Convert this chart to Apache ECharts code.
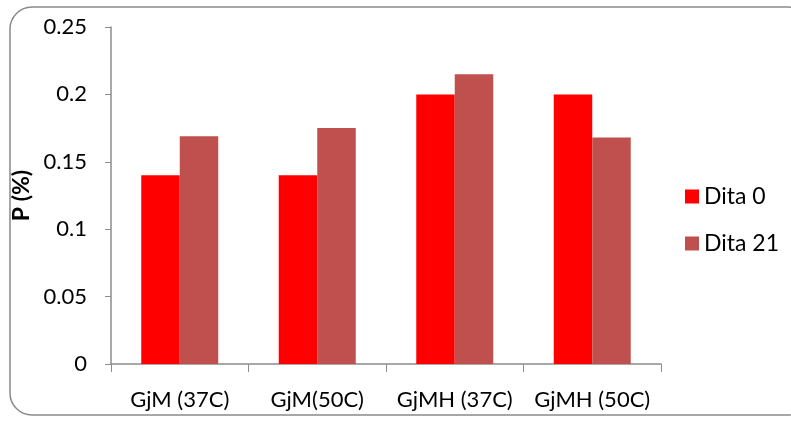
<!DOCTYPE html>
<html><head><meta charset="utf-8">
<script src="https://cdn.jsdelivr.net/npm/echarts@6/dist/echarts.min.js"></script>
<style>html,body{margin:0;padding:0;background:#fff}#c{width:791px;height:421px}</style>
</head><body><div id="c"></div>
<script>
var categories = ['GjM (37C)', 'GjM(50C)', 'GjMH (37C)', 'GjMH (50C)'];
var dita0 = [0.14, 0.14, 0.2, 0.2];
var dita21 = [0.169, 0.175, 0.215, 0.168];
var seriesNames = ['Dita 0', 'Dita 21'];
var yTicks = [0, 0.05, 0.1, 0.15, 0.2, 0.25];

var FONT = 'Lato';
var chart = echarts.init(document.getElementById('c'), null, {renderer: 'canvas'});
chart.setOption({
  animation: false,
  backgroundColor: '#fff',
  textStyle: {fontFamily: FONT},
  graphic: [
    {type: 'rect', shape: {x: 10, y: 7, width: 800, height: 408, r: 22},
     style: {fill: 'none', stroke: '#8a8a8a', lineWidth: 1.5}, z: -1},
    {type: 'text', left: 392, top: -23, style: {text: '(a)', font: '22px ' + FONT, fill: '#000'}}
  ],
  grid: {left: 111, right: 130, top: 27, bottom: 57},
  legend: {
    orient: 'vertical', left: 680, top: 180, itemGap: 24,
    itemWidth: 14, itemHeight: 14, icon: 'rect',
    textStyle: {fontSize: 23, fontFamily: FONT, color: '#000'},
    data: seriesNames
  },
  xAxis: {
    type: 'category', data: categories,
    axisLine: {lineStyle: {color: '#8c8c8c', width: 1.5}},
    axisTick: {show: true, length: 8, alignWithLabel: false, lineStyle: {color: '#8c8c8c'}},
    axisLabel: {fontSize: 22, color: '#000', margin: 25, fontFamily: FONT, interval: 0}
  },
  yAxis: {
    type: 'value', min: 0, max: 0.25, interval: 0.05,
    name: 'P (%)', nameLocation: 'middle', nameGap: 64, nameRotate: 90,
    nameTextStyle: {fontSize: 23, fontWeight: 'bold', color: '#000', fontFamily: FONT},
    axisLine: {show: true, lineStyle: {color: '#8c8c8c', width: 1.5}},
    axisTick: {show: true, length: 6, inside: false, lineStyle: {color: '#8c8c8c'}},
    splitLine: {show: false},
    axisLabel: {fontSize: 22, color: '#000', margin: 24, fontFamily: FONT,
      formatter: function (v) { var s = yTicks.filter(function(t){return Math.abs(t-v)<1e-9;}); return s.length ? String(s[0]) : ''; }}
  },
  series: [
    {name: seriesNames[0], type: 'bar', data: dita0, barWidth: '28%', barGap: '0%',
     itemStyle: {color: '#ff0000'}},
    {name: seriesNames[1], type: 'bar', data: dita21, barWidth: '28%', barGap: '0%',
     itemStyle: {color: '#c0504d'}}
  ]
});
</script></body></html>
